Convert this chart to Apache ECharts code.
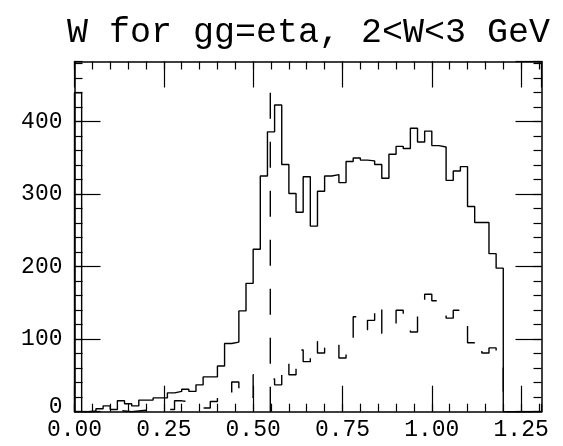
<!DOCTYPE html>
<html>
<head>
<meta charset="utf-8">
<script src="https://cdn.jsdelivr.net/npm/echarts@6/dist/echarts.min.js"></script>
<style>html,body{margin:0;padding:0;background:#fff}#c{width:563px;height:446px}</style>
</head>
<body>
<div id="c"></div>
<script>
// ---- data ----
const titleText = 'W for gg=eta, 2<W<3 GeV';
const binLow = [0.00,0.02,0.04,0.06,0.08,0.10,0.12,0.14,0.16,0.18,
                0.20,0.22,0.24,0.26,0.28,0.30,0.32,0.34,0.36,0.38,
                0.40,0.42,0.44,0.46,0.48,0.50,0.52,0.54,0.56,0.58,
                0.60,0.62,0.64,0.66,0.68,0.70,0.72,0.74,0.76,0.78,
                0.80,0.82,0.84,0.86,0.88,0.90,0.92,0.94,0.96,0.98,
                1.00,1.02,1.04,1.06,1.08,1.10,1.12,1.14,1.16,1.18,
                1.20,1.22,1.24,1.26,1.28];
const binHighLast = 1.30;
const solidCounts = [440,0,1,4,8,3,15,11,8,16,
                     16,19,19,26,28,31,28,37,48,48,
                     63,94,96,139,177,224,325,386,423,341,
                     301,275,324,256,304,325,327,316,345,350,
                     347,346,341,322,355,366,363,391,372,387,
                     367,365,319,332,338,283,261,261,218,198,
                     0,0,0,0,0];
const dashedCounts = [0,0,0,0,2,2,1,0,1,2,
                      2,2,3,3,15,14,9,8,5,14,
                      23,20,41,18,20,51,48,45,37,70,
                      51,85,69,97,81,88,97,74,99,131,
                      113,126,150,108,115,140,122,110,136,162,
                      153,153,129,140,137,95,101,81,88,80,
                      0,0,0,0,0];
const etaX = [0.548, 0.548];
const etaY = [440, 0];
const xTickLabels = ['0.00','0.25','0.50','0.75','1.00','1.25'];
const yTickLabels = ['0','100','200','300','400'];
const xMax = 1.307, yMax = 483;

// ---- build step paths ----
function stepData(counts){
  const d = [[binLow[0], 0]];
  for (let i = 0; i < counts.length; i++) d.push([binLow[i], counts[i]]);
  d.push([binHighLast, 0]);
  return d;
}

const font = "'Liberation Mono','DejaVu Sans Mono',monospace";
const black = '#000';

function xAx(pos, interval, tickLen, withLine, withLabel){
  return {
    type:'value', position:pos, min:0, max:xMax, interval:interval,
    axisLine:{show:withLine, onZero:false, lineStyle:{color:black,width:1.5}},
    axisTick:{show:true, inside:true, length:tickLen, lineStyle:{color:black,width:1.2}},
    splitLine:{show:false},
    axisLabel: withLabel ? {show:true, showMaxLabel:false, margin:7, color:black,
        fontFamily:font, fontSize:23,
        formatter:function(v){ const s=v.toFixed(2); return xTickLabels.indexOf(s)>=0?s:''; }}
      : {show:false}
  };
}
function yAx(pos, interval, tickLen, withLine, withLabel){
  return {
    type:'value', position:pos, min:0, max:yMax, interval:interval,
    axisLine:{show:withLine, onZero:false, lineStyle:{color:black,width:1.5}},
    axisTick:{show:true, inside:true, length:tickLen, lineStyle:{color:black,width:1.2}},
    splitLine:{show:false},
    axisLabel: withLabel ? {show:true, showMaxLabel:false, margin:12, color:black,
        fontFamily:font, fontSize:23,
        formatter:function(v){ const s=String(v); if (yTickLabels.indexOf(s)<0) return ''; return s==='0'?'{z|0}':s; },
        rich:{z:{fontFamily:font,fontSize:23,color:black,padding:[0,0,10,0]}}}
      : {show:false}
  };
}

const chart = echarts.init(document.getElementById('c'), null, {renderer:'canvas'});
chart.setOption({
  animation:false,
  backgroundColor:'#fff',
  title:{text:titleText, left:62, top:10,
    textStyle:{fontFamily:font, fontSize:35, fontWeight:'normal', color:black}},
  grid:{left:74.5, right:21.5, top:61.5, bottom:34.3, containLabel:false},
  xAxis:[
    xAx('bottom',0.25,26,true,true),
    xAx('bottom',0.05,8,false,false),
    xAx('top',0.25,26,true,false),
    xAx('top',0.05,8,false,false)
  ],
  yAxis:[
    yAx('left',100,26,true,true),
    yAx('left',20,8,false,false),
    yAx('right',100,26,true,false),
    yAx('right',20,8,false,false)
  ],
  series:[
    {type:'line', name:'all', step:'end', symbol:'none', xAxisIndex:0, yAxisIndex:0,
     data:stepData(solidCounts), lineStyle:{color:black,width:1.4}},
    {type:'line', name:'sel', step:'end', symbol:'none', xAxisIndex:0, yAxisIndex:0,
     data:stepData(dashedCounts), lineStyle:{color:black,width:1.4,type:[24,24]}},
    {type:'line', name:'eta', symbol:'none', xAxisIndex:0, yAxisIndex:0,
     data:etaX.map((x,i)=>[x,etaY[i]]), lineStyle:{color:black,width:1.4,type:[26,23]}}
  ]
});
</script>
</body>
</html>
